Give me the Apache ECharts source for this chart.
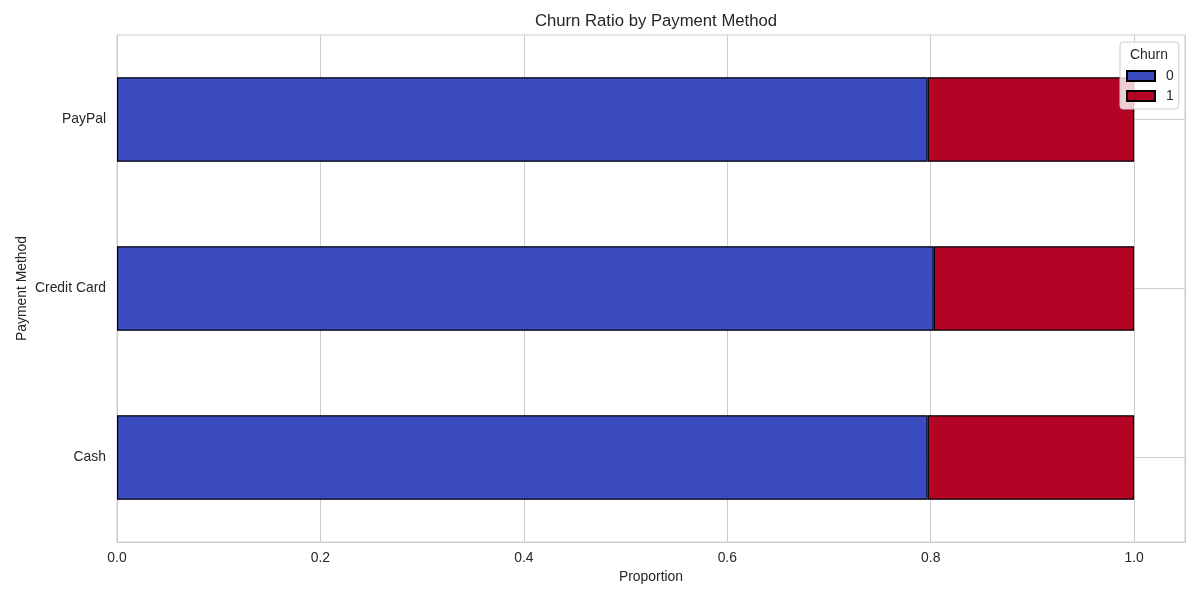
<!DOCTYPE html>
<html>
<head>
<meta charset="utf-8">
<script src="https://cdn.jsdelivr.net/npm/echarts@6/dist/echarts.min.js"></script>
<style>html,body{margin:0;padding:0;background:#fff}#c{width:1200px;height:600px}</style>
</head>
<body>
<div id="c"></div>
<script>
const categories = ['Cash', 'Credit Card', 'PayPal'];
const churn0 = [0.797, 0.803, 0.797];
const churn1 = [0.203, 0.197, 0.203];
const xTicks = [0, 0.2, 0.4, 0.6, 0.8, 1.0];

const FONT = '"Liberation Sans", Arial, "DejaVu Sans", sans-serif';
const chart = echarts.init(document.getElementById('c'), null, {renderer: 'canvas'});
const option = {
  backgroundColor: '#ffffff',
  animation: false,
  textStyle: {fontFamily: FONT, color: '#262626'},
  title: {
    text: 'Churn Ratio by Payment Method',
    left: 651, top: 8, textAlign: 'center',
    textStyle: {fontFamily: FONT, fontSize: 16.7, fontWeight: 'normal', color: '#262626'}
  },
  grid: {left: 117, right: 15, top: 35, bottom: 58, show: true, borderColor: '#cccccc', borderWidth: 1, containLabel: false},
  legend: {
    data: ['0', '1'],
    orient: 'vertical',
    icon: 'rect',
    left: 1120, top: 42,
    padding: [27, 5, 6, 6],
    itemWidth: 28, itemHeight: 10, itemGap: 6,
    backgroundColor: 'rgba(255,255,255,0.8)',
    borderColor: '#cccccc', borderWidth: 1, borderRadius: 3,
    textStyle: {fontFamily: FONT, fontSize: 13.9, color: '#262626', padding: [0, 0, 0, 6]}
  },
  graphic: [{
    type: 'text', z: 100,
    style: {text: 'Churn', x: 1149, y: 55, align: 'center', verticalAlign: 'middle',
      font: '13.9px ' + FONT, fill: '#262626'}
  }],
  xAxis: {
    type: 'value', min: 0, max: 1.05, interval: 0.2,
    name: 'Proportion', nameLocation: 'middle', nameGap: 28,
    nameTextStyle: {fontFamily: FONT, fontSize: 13.9, color: '#262626'},
    axisLine: {show: true, lineStyle: {color: '#cccccc'}},
    axisTick: {show: false},
    axisLabel: {
      fontFamily: FONT, fontSize: 13.9, color: '#262626', margin: 9,
      showMaxLabel: false,
      formatter: function (v) {
        for (const t of xTicks) { if (Math.abs(v - t) < 1e-6) return t.toFixed(1); }
        return '';
      }
    },
    splitLine: {show: true, lineStyle: {color: '#cccccc', width: 1}}
  },
  yAxis: {
    type: 'category', data: categories,
    name: 'Payment Method', nameLocation: 'middle', nameGap: 88, nameRotate: 90,
    nameMoveOverlap: false,
    nameTextStyle: {fontFamily: FONT, fontSize: 13.9, color: '#262626'},
    axisLine: {show: true, lineStyle: {color: '#cccccc'}},
    axisTick: {show: false},
    axisLabel: {fontFamily: FONT, fontSize: 13.9, color: '#262626', margin: 11},
    splitLine: {show: false}
  },
  series: [
    {
      name: '0', type: 'bar', stack: 'total', data: churn0, barWidth: '50%', z: 2,
      itemStyle: {color: '#3b4cc0', borderColor: '#000000', borderWidth: 1.2},
      markLine: {
        z: 1, silent: true, symbol: 'none', label: {show: false},
        lineStyle: {color: '#cccccc', width: 1, type: 'solid'},
        data: categories.map(c => ({yAxis: c}))
      }
    },
    {
      name: '1', type: 'bar', stack: 'total', data: churn1, barWidth: '50%', z: 2,
      itemStyle: {color: '#b40426', borderColor: '#000000', borderWidth: 1.2}
    }
  ]
};
chart.setOption(option);
</script>
</body>
</html>
